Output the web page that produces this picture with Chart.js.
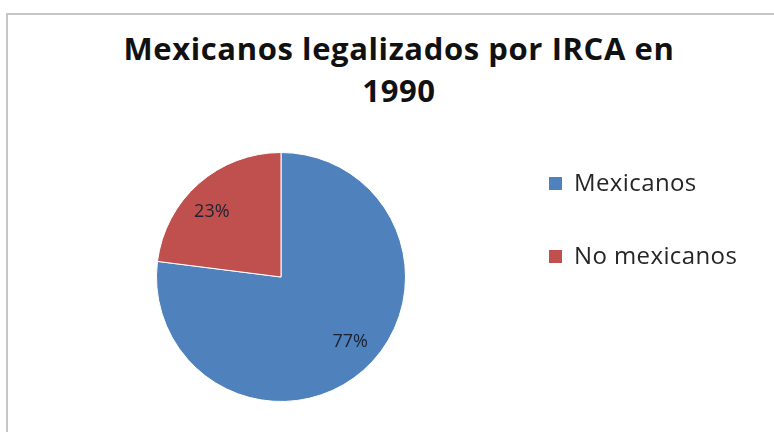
<!DOCTYPE html>
<html lang="es">
<head>
<meta charset="utf-8">
<title>Mexicanos legalizados por IRCA en 1990</title>
<script src="https://cdn.jsdelivr.net/npm/chart.js@4/dist/chart.umd.min.js"></script>
<style>
  html, body { margin: 0; padding: 0; background: #fff; }
  body { width: 774px; height: 432px; overflow: hidden; position: relative; font-family: "Open Sans", sans-serif; }
  #marco { position: absolute; left: 6px; top: 13px; right: -10px; bottom: -10px; border-top: 2px solid #c6c6c6; border-left: 2px solid #c6c6c6; }
  #titulo { position: absolute; left: 24px; width: 750px; top: 27px; text-align: center; font-weight: bold; font-size: 31px; letter-spacing: 0.6px; line-height: 42px; color: #111; }
  #grafico { position: absolute; left: 0; top: 0; }
  #leyenda { position: absolute; left: 549px; top: 0; }
  .item { position: absolute; left: 0; white-space: nowrap; font-size: 24px; letter-spacing: 0.4px; color: #262626; height: 30px; line-height: 30px; }
  .item span.caja { display: inline-block; width: 13px; height: 13px; margin-right: 12px; vertical-align: 1px; }
</style>
</head>
<body>
<div id="marco"></div>
<div id="titulo"></div>
<canvas id="grafico" width="774" height="432"></canvas>
<div id="leyenda"></div>
<script>
// Datos del gráfico
const tituloLineas = ['Mexicanos legalizados por IRCA en', '1990'];
const categorias = ['Mexicanos', 'No mexicanos'];
const porcentajes = [77, 23];
const colores = ['#4f81bd', '#c0504d'];

document.addEventListener('DOMContentLoaded', function() {
  document.getElementById('titulo').innerHTML = tituloLineas.join('<br>');
  initLeyenda();
  initGraficoPie();
});

function initLeyenda() {
  // Leyenda a la derecha, una fila por categoría
  const leyenda = document.getElementById('leyenda');
  const centros = [182, 255];
  categorias.forEach((cat, i) => {
    const item = document.createElement('div');
    item.className = 'item';
    item.style.top = (centros[i] - 15) + 'px';
    const caja = document.createElement('span');
    caja.className = 'caja';
    caja.style.background = colores[i];
    item.appendChild(caja);
    item.appendChild(document.createTextNode(cat));
    leyenda.appendChild(item);
  });
}

// Etiquetas de porcentaje dentro de cada sector
const etiquetasPlugin = {
  id: 'etiquetasPie',
  afterDatasetsDraw(chart) {
    const ctx = chart.ctx;
    const meta = chart.getDatasetMeta(0);
    ctx.save();
    ctx.font = '18px "Open Sans", sans-serif';
    ctx.fillStyle = '#1c2233';
    ctx.textAlign = 'center';
    ctx.textBaseline = 'middle';
    meta.data.forEach((arc, i) => {
      const p = arc.getProps(['x', 'y', 'startAngle', 'endAngle', 'outerRadius'], true);
      const ang = (p.startAngle + p.endAngle) / 2;
      const rx = p.outerRadius * 0.84;
      const ry = p.outerRadius * 0.70;
      ctx.fillText(chart.data.datasets[0].data[i] + '%', p.x + Math.cos(ang) * rx, p.y + Math.sin(ang) * ry);
    });
    ctx.restore();
  }
};

function initGraficoPie() {
  const ctx = document.getElementById('grafico').getContext('2d');
  new Chart(ctx, {
    type: 'pie',
    data: {
      labels: categorias,
      datasets: [{
        data: porcentajes,
        backgroundColor: colores,
        borderColor: '#ffffff',
        borderWidth: 1
      }]
    },
    options: {
      responsive: false,
      animation: false,
      layout: {
        padding: { left: 156, right: 368, top: 152, bottom: 30 }
      },
      plugins: {
        legend: { display: false },
        title: { display: false },
        tooltip: { enabled: false }
      }
    },
    plugins: [etiquetasPlugin]
  });
}
</script>
</body>
</html>
